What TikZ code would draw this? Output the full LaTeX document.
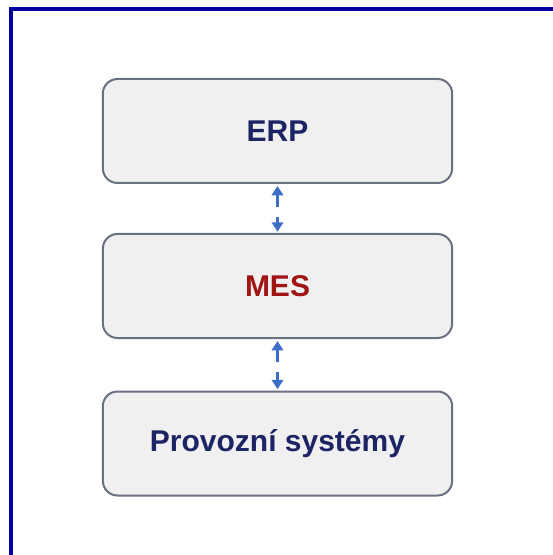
\documentclass[tikz,border=0pt]{standalone}
\usepackage{fontspec}
\setmainfont{Liberation Sans}
\usetikzlibrary{arrows.meta}
\definecolor{framec}{RGB}{0,0,160}
\definecolor{boxfill}{RGB}{240,240,240}
\definecolor{boxline}{RGB}{105,112,130}
\definecolor{navy}{RGB}{28,36,100}
\definecolor{mesred}{RGB}{160,20,20}
\definecolor{arrowc}{RGB}{60,110,200}
\tikzset{
    layer/.style={draw=boxline, line width=1.5pt, fill=boxfill, rounded corners=11pt,
        minimum width=262pt, minimum height=78pt, font=\fontsize{22.5}{26}\selectfont\bfseries, text=navy},
    link/.style={{Triangle[length=7pt,width=8.5pt]}-{Triangle[length=7pt,width=8.5pt]}, arrowc,
        line width=2.2pt, dash pattern=on 9.5pt off 7.5pt on 30pt, shorten <=1.5pt, shorten >=1pt}
}
\begin{document}
\begin{tikzpicture}[x=0.75pt,y=-0.75pt]
\useasboundingbox[fill=white](0,0)rectangle(552,555);
\draw[framec, line width=3pt](11,555)--(11,9)--(560,9);
\node[layer](erp) at (277.5,131){ERP};
\node[layer, text=mesred](mes) at (277.5,286){MES};
\node[layer](prov) at (277.5,443.5){Provozní systémy};
\draw[link](erp)--(mes);
\draw[link](mes)--(prov);
\end{tikzpicture}
\end{document}
